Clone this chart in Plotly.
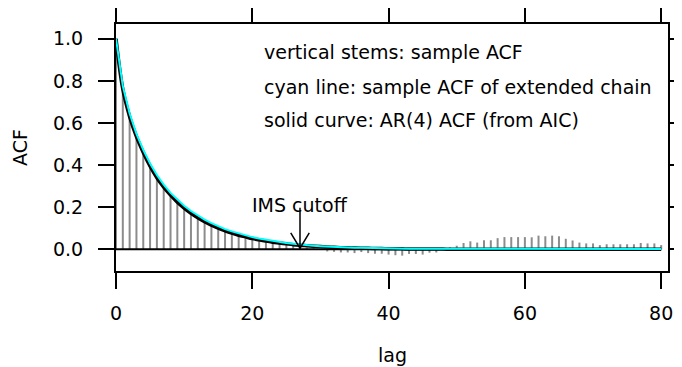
import plotly.graph_objects as go

lags = list(range(0, 81))

sample_acf = [
    1.000, 0.765, 0.635, 0.540, 0.465, 0.400, 0.345, 0.300, 0.262, 0.230,
    0.203, 0.178, 0.156, 0.137, 0.120, 0.105, 0.092, 0.080, 0.069, 0.060,
    0.052, 0.045, 0.038, 0.032, 0.026, 0.021, 0.016, 0.012, 0.008, 0.005,
    0.002, -0.010, -0.012, -0.015, -0.015, -0.018, -0.013, -0.018, -0.021, -0.021,
    -0.025, -0.028, -0.030, -0.022, -0.022, -0.025, -0.016, -0.015, -0.005, 0.010,
    0.017, 0.030, 0.038, 0.032, 0.043, 0.043, 0.053, 0.058, 0.058, 0.058,
    0.058, 0.057, 0.065, 0.062, 0.065, 0.062, 0.050, 0.042, 0.032, 0.028,
    0.028, 0.020, 0.024, 0.024, 0.024, 0.024, 0.024, 0.030, 0.028, 0.028,
    0.020,
]

ext_acf = [
    1.000, 0.775, 0.645, 0.548, 0.472, 0.408, 0.353, 0.307, 0.268, 0.235,
    0.207, 0.182, 0.160, 0.141, 0.124, 0.109, 0.096, 0.085, 0.075, 0.066,
    0.058, 0.051, 0.045, 0.039, 0.034, 0.030, 0.026, 0.022, 0.019, 0.017,
    0.015, 0.013, 0.011, 0.010, 0.009, 0.008, 0.007, 0.006, 0.005, 0.005,
    0.004, 0.004, 0.004, 0.003, 0.003, 0.003, 0.003, 0.003, 0.003, 0.003,
    0.003, 0.003, 0.003, 0.003, 0.003, 0.003, 0.003, 0.003, 0.003, 0.003,
    0.003, 0.003, 0.003, 0.003, 0.003, 0.003, 0.003, 0.002, 0.002, 0.002,
    0.002, 0.002, 0.002, 0.002, 0.002, 0.002, 0.002, 0.002, 0.002, 0.002,
    0.002,
]

ar_acf = [
    1.000, 0.760, 0.630, 0.535, 0.460, 0.395, 0.340, 0.295, 0.257, 0.224,
    0.196, 0.171, 0.150, 0.131, 0.115, 0.100, 0.088, 0.077, 0.067, 0.059,
    0.051, 0.045, 0.039, 0.034, 0.030, 0.026, 0.022, 0.019, 0.017, 0.015,
    0.013, 0.011, 0.0095, 0.008, 0.007, 0.006, 0.0052, 0.0045, 0.004, 0.0034,
    0.003, 0.0026, 0.0022, 0.0019, 0.0016, 0.0014, 0.0012, 0.0010, 0.0009, 0.0008,
    0.0007, 0.0006, 0.0005, 0.0004, 0.0004, 0.0003, 0.0003, 0.0003, 0.0002, 0.0002,
    0.0002, 0.0002, 0.0001, 0.0001, 0.0001, 0.0001, 0.0001, 0.0001, 0.0001, 0.0001,
    0.0, 0.0, 0.0, 0.0, 0.0, 0.0, 0.0, 0.0, 0.0, 0.0,
    0.0,
]

y_ticks = [0.0, 0.2, 0.4, 0.6, 0.8, 1.0]
y_tick_labels = ["0.0", "0.2", "0.4", "0.6", "0.8", "1.0"]
x_ticks = [0, 20, 40, 60, 80]
x_tick_labels = ["0", "20", "40", "60", "80"]

legend_lines = [
    "vertical stems: sample ACF",
    "cyan line: sample ACF of extended chain",
    "solid curve: AR(4) ACF (from AIC)",
]
legend_x = 21.45
legend_y = [0.939, 0.773, 0.616]

cutoff_lag = 27
cutoff_label = "IMS cutoff"
cutoff_text_y = 0.151
cutoff_arrow_top = 0.197
cutoff_arrow_tip = 0.005

FONT = "DejaVu Sans, Liberation Sans, sans-serif"
FS = 19

# stems
sx, sy = [], []
for k, v in zip(lags, sample_acf):
    sx += [k, k, None]
    sy += [0, v, None]

fig = go.Figure()
fig.add_trace(go.Scatter(x=sx, y=sy, mode="lines",
                         line=dict(color="#8c8c8c", width=2), hoverinfo="skip"))
fig.add_trace(go.Scatter(x=[lags[0], lags[-1]], y=[0, 0], mode="lines",
                         line=dict(color="black", width=2), hoverinfo="skip"))
fig.add_trace(go.Scatter(x=lags, y=ar_acf, mode="lines",
                         line=dict(color="black", width=3.5, shape="spline"), hoverinfo="skip"))
fig.add_trace(go.Scatter(x=lags, y=ext_acf, mode="lines",
                         line=dict(color="#00ffff", width=2), hoverinfo="skip"))

# arrow (shaft + open head)
head_dx = 1.36
head_dy = 0.073
fig.add_trace(go.Scatter(
    x=[cutoff_lag, cutoff_lag, None, cutoff_lag - head_dx, cutoff_lag, cutoff_lag + head_dx],
    y=[cutoff_arrow_top, cutoff_arrow_tip, None, cutoff_arrow_tip + head_dy, cutoff_arrow_tip, cutoff_arrow_tip + head_dy],
    mode="lines", line=dict(color="black", width=1.5), hoverinfo="skip"))

annotations = []
for txt, yy in zip(legend_lines, legend_y):
    annotations.append(dict(x=legend_x, y=yy, xref="x", yref="y", text=txt,
                            showarrow=False, xanchor="left", yanchor="middle",
                            font=dict(family=FONT, size=FS, color="black")))
annotations.append(dict(x=cutoff_lag, y=cutoff_text_y, xref="x", yref="y", text=cutoff_label,
                        showarrow=False, xanchor="center", yanchor="bottom",
                        font=dict(family=FONT, size=FS, color="black")))
annotations.append(dict(x=-0.174, y=0.502, xref="paper", yref="paper", text="ACF",
                        showarrow=False, textangle=-90, xanchor="center", yanchor="middle",
                        font=dict(family=FONT, size=FS, color="black")))
annotations.append(dict(x=0.5, y=-0.34, xref="paper", yref="paper", text="lag",
                        showarrow=False, xanchor="center", yanchor="middle",
                        font=dict(family=FONT, size=FS, color="black")))

# page body has an 8px margin, so the figure is 8px smaller and margins shifted
fig.update_layout(
    template="none",
    width=674, height=359,
    margin=dict(l=108, r=14, t=16, b=96, autoexpand=False),
    paper_bgcolor="white", plot_bgcolor="white",
    showlegend=False,
    font=dict(family=FONT, size=FS, color="black"),
    annotations=annotations,
    xaxis=dict(range=[0, 81], tickvals=x_ticks, ticktext=x_tick_labels,
               ticks="outside", ticklen=16, tickwidth=2, tickcolor="black",
               showline=True, linewidth=2, linecolor="black", mirror="ticks",
               showgrid=False, zeroline=False, ticklabelstandoff=8, automargin=False),
    yaxis=dict(range=[-0.103, 1.07], tickvals=y_ticks, ticktext=y_tick_labels,
               ticks="outside", ticklen=16, tickwidth=2, tickcolor="black",
               showline=True, linewidth=2, linecolor="black", mirror="ticks",
               showgrid=False, zeroline=False, ticklabelstandoff=11, automargin=False),
)

fig.write_html("out.html")
